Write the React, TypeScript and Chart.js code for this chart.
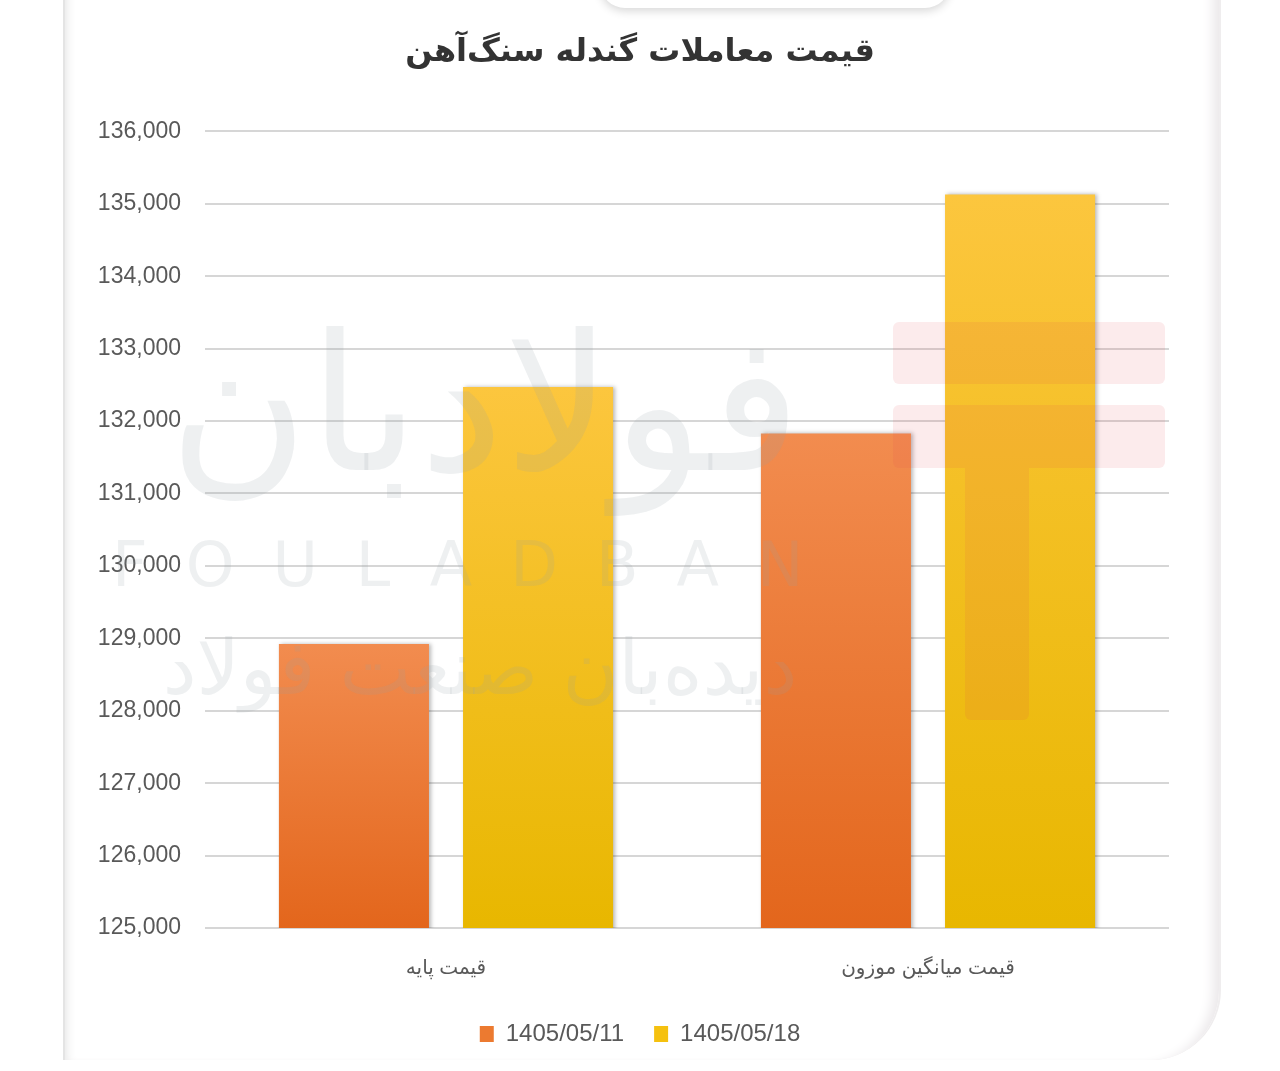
import React, { useEffect, useRef } from "react";
import { Chart, registerables } from "chart.js";

Chart.register(...registerables);

const titleText = "قیمت معاملات گندله سنگ‌آهن";
const categories = ["قیمت پایه", "قیمت میانگین موزون"];
const seriesLabels = ["1405/05/11", "1405/05/18"];
const seriesFirst = [128920, 131830];
const seriesSecond = [132470, 135130];
const yMin = 125000;
const yMax = 136000;
const yStep = 1000;

const orangeTop = "#f28c4f";
const orangeBottom = "#e3661c";
const yellowTop = "#fcc63e";
const yellowBottom = "#e8b700";

function barGradient(topColor: string, bottomColor: string) {
  return (context: any) => {
    const chart = context.chart;
    const area = chart.chartArea;
    const yScale = chart.scales && chart.scales.y;
    if (!area || !yScale || context.raw == null) return bottomColor;
    const topPx = yScale.getPixelForValue(context.raw);
    const g = chart.ctx.createLinearGradient(0, topPx, 0, area.bottom);
    g.addColorStop(0, topColor);
    g.addColorStop(1, bottomColor);
    return g;
  };
}

const shadowPlugin = {
  id: "barShadow",
  beforeDatasetsDraw(chart: any) {
    const ctx = chart.ctx;
    ctx.save();
    ctx.shadowColor = "rgba(0,0,0,0.28)";
    ctx.shadowBlur = 4;
    ctx.shadowOffsetX = 2;
    ctx.shadowOffsetY = 0;
  },
  afterDatasetsDraw(chart: any) {
    chart.ctx.restore();
  },
};

// centre the title and legend on the page card rather than on the padded layout box
const centerBoxesPlugin = {
  id: "centerBoxes",
  afterLayout(chart: any) {
    const boxes = [chart.legend, chart.titleBlock];
    boxes.forEach((b: any) => {
      if (!b) return;
      b.left = 0;
      b.right = chart.width;
      b.width = chart.width;
    });
  },
};

export default function App() {
  const canvasRef = useRef<HTMLCanvasElement | null>(null);

  useEffect(() => {
    if (!canvasRef.current) return;
    const chart = new Chart(canvasRef.current, {
      type: "bar",
      data: {
        labels: categories,
        datasets: [
          {
            label: seriesLabels[0],
            data: seriesFirst,
            backgroundColor: barGradient(orangeTop, orangeBottom),
            borderWidth: 0,
          },
          {
            label: seriesLabels[1],
            data: seriesSecond,
            backgroundColor: barGradient(yellowTop, yellowBottom),
            borderWidth: 0,
          },
        ],
      },
      plugins: [shadowPlugin, centerBoxesPlugin],
      options: {
        animation: false,
        responsive: false,
        maintainAspectRatio: false,
        layout: { padding: { top: 20, left: 60, right: 111, bottom: 15 } },
        datasets: {
          bar: { categoryPercentage: 0.764, barPercentage: 0.815 },
        },
        plugins: {
          title: {
            display: true,
            text: titleText,
            color: "#333333",
            font: { family: "'DejaVu Sans', sans-serif", size: 32, weight: "bold" },
            padding: { top: 13, bottom: 60 },
          },
          legend: {
            display: true,
            position: "bottom",
            labels: {
              color: "#595959",
              font: { family: "Arial, 'Liberation Sans', sans-serif", size: 24 },
              boxWidth: 14,
              boxHeight: 16,
              padding: 30,
              generateLabels: (ch: any) =>
                ch.data.datasets.map((ds: any, i: number) => ({
                  text: ds.label,
                  fillStyle: i === 0 ? "#ec7a30" : "#f5c10f",
                  strokeStyle: "rgba(0,0,0,0)",
                  lineWidth: 0,
                  fontColor: "#595959",
                  hidden: false,
                  datasetIndex: i,
                })),
            },
          },
          tooltip: { enabled: false },
        },
        scales: {
          x: {
            grid: { display: false, drawTicks: false },
            border: { display: false },
            ticks: {
              color: "#595959",
              padding: 28,
              font: { family: "Arial, 'DejaVu Sans', sans-serif", size: 20 },
            },
            afterFit: (scale: any) => {
              scale.height = 64;
            },
          },
          y: {
            min: yMin,
            max: yMax,
            grid: { color: "#d6d6d6", lineWidth: 2, drawTicks: false },
            border: { display: false },
            ticks: {
              stepSize: yStep,
              color: "#595959",
              padding: 24,
              font: { family: "Arial, 'Liberation Sans', sans-serif", size: 23 },
              callback: (v: any) => Number(v).toLocaleString("en-US"),
            },
            afterFit: (scale: any) => {
              scale.width = 145;
            },
          },
        },
      },
    });
    return () => chart.destroy();
  }, []);

  const wm = "rgba(150,160,170,0.16)";
  return (
    <div
      style={{
        position: "absolute",
        left: 0,
        top: 0,
        width: 1280,
        height: 1071,
        overflow: "hidden",
        background: "#ffffff",
      }}
    >
      <div
        style={{
          position: "absolute",
          left: 63,
          top: -40,
          width: 1154,
          height: 1100,
          borderLeft: "2px solid #e4e4e4",
          borderRight: "2px solid #efedee",
          borderBottomRightRadius: 70,
          boxShadow: "inset 8px 0 10px -6px #e6e6e6, inset -14px 0 12px -8px #ebe8ea",
          background: "#ffffff",
        }}
      />
      <div
        style={{
          position: "absolute",
          left: 600,
          top: -42,
          width: 350,
          height: 50,
          borderRadius: 25,
          background: "#ffffff",
          boxShadow: "0 3px 10px rgba(0,0,0,0.16)",
        }}
      />
      <canvas
        ref={canvasRef}
        width={1280}
        height={1071}
        style={{ position: "absolute", left: 0, top: 0, width: 1280, height: 1071 }}
      />
      <div style={{ position: "absolute", left: 0, top: 0, width: 1280, height: 1071, pointerEvents: "none" }}>
        <div style={{ position: "absolute", left: 893, top: 322, width: 272, height: 62, background: "rgba(225,70,80,0.11)", borderRadius: 6 }} />
        <div style={{ position: "absolute", left: 893, top: 405, width: 272, height: 63, background: "rgba(225,70,80,0.11)", borderRadius: 6 }} />
        <div style={{ position: "absolute", left: 965, top: 468, width: 64, height: 252, background: "rgba(225,70,80,0.11)", borderRadius: "0 0 6px 6px" }} />
        <div
          style={{
            position: "absolute",
            left: 110,
            top: 285,
            width: 750,
            textAlign: "center",
            fontFamily: "'DejaVu Sans', sans-serif",
            fontSize: 190,
            lineHeight: "240px",
            color: wm,
            direction: "rtl",
          }}
        >
          فولادبان
        </div>
        <div
          style={{
            position: "absolute",
            left: 112,
            top: 530,
            width: 760,
            fontFamily: "'DejaVu Sans', sans-serif",
            fontSize: 62,
            lineHeight: "70px",
            letterSpacing: 38,
            color: wm,
          }}
        >
          FOULADBAN
        </div>
        <div
          style={{
            position: "absolute",
            left: 110,
            top: 618,
            width: 740,
            textAlign: "center",
            fontFamily: "'DejaVu Sans', sans-serif",
            fontSize: 76,
            lineHeight: "100px",
            color: wm,
            direction: "rtl",
          }}
        >
          دیده‌بان صنعت فولاد
        </div>
      </div>
    </div>
  );
}
